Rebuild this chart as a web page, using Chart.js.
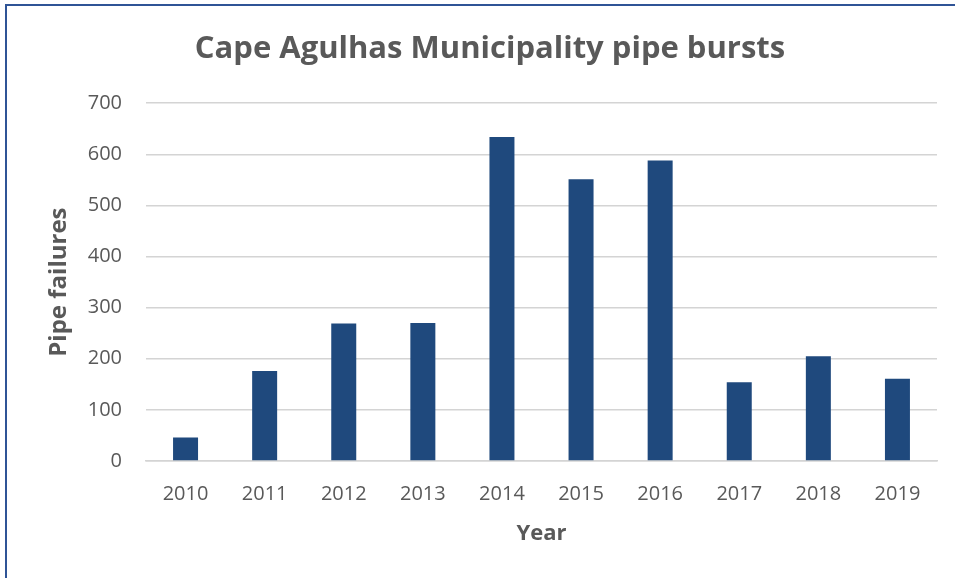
<!DOCTYPE html>
<html>
<head>
<meta charset="utf-8">
<script src="https://cdn.jsdelivr.net/npm/chart.js@4.4.1/dist/chart.umd.min.js"></script>
<style>
  body { margin: 0; background: #fff; }
  #wrap { position: relative; width: 955px; height: 578px; overflow: hidden; }
  #frame { position: absolute; left: 5px; top: 4px; width: 1000px; height: 640px;
           border-left: 2px solid #2f5496; border-top: 2px solid #2f5496; pointer-events: none; }
</style>
</head>
<body>
<div id="wrap">
  <canvas id="myChart" width="955" height="578"></canvas>
  <div id="frame"></div>
</div>
<script>
const years = ['2010', '2011', '2012', '2013', '2014', '2015', '2016', '2017', '2018', '2019'];
const pipeFailures = [46, 176, 269, 270, 634, 551, 588, 154, 205, 161];
const yTicks = [0, 100, 200, 300, 400, 500, 600, 700];

const textGray = '#595959';
const font = "'Open Sans', sans-serif";

const ctx = document.getElementById('myChart').getContext('2d');
new Chart(ctx, {
  type: 'bar',
  data: {
    labels: years,
    datasets: [{
      data: pipeFailures,
      backgroundColor: '#1f497d',
      borderWidth: 0,
      categoryPercentage: 1,
      barPercentage: 0.316
    }]
  },
  options: {
    responsive: false,
    animation: false,
    layout: {
      padding: { left: 43, right: 18, top: 0, bottom: 30 }
    },
    plugins: {
      legend: { display: false },
      tooltip: { enabled: false },
      title: {
        display: true,
        text: 'Cape Agulhas Municipality pipe bursts',
        color: textGray,
        font: { family: font, size: 31, weight: 'bold' },
        padding: { top: 31, bottom: 35 }
      }
    },
    scales: {
      y: {
        min: 0,
        max: 700,
        afterBuildTicks: function (axis) {
          axis.ticks = yTicks.map(v => ({ value: v }));
        },
        // fixed width so the plot starts where the reference does
        afterFit: function (axis) {
          axis.width = 103;
        },
        ticks: {
          color: textGray,
          font: { family: font, size: 20 },
          padding: 24
        },
        grid: {
          color: '#d4d4d4',
          lineWidth: 1.5,
          drawTicks: false
        },
        border: { display: false },
        title: {
          display: true,
          text: 'Pipe failures',
          color: textGray,
          font: { family: font, size: 24, weight: 'bold' },
          padding: { top: 2, bottom: 15 }
        }
      },
      x: {
        afterFit: function (axis) {
          axis.height = 87;
        },
        ticks: {
          color: textGray,
          font: { family: font, size: 20 },
          padding: 21,
          maxRotation: 0
        },
        grid: { display: false, drawTicks: false },
        border: { display: true, color: '#d4d4d4', width: 1.5 },
        title: {
          display: true,
          text: 'Year',
          color: textGray,
          font: { family: font, size: 22, weight: 'bold' },
          padding: { top: 14, bottom: 1 }
        }
      }
    }
  }
});
</script>
</body>
</html>
